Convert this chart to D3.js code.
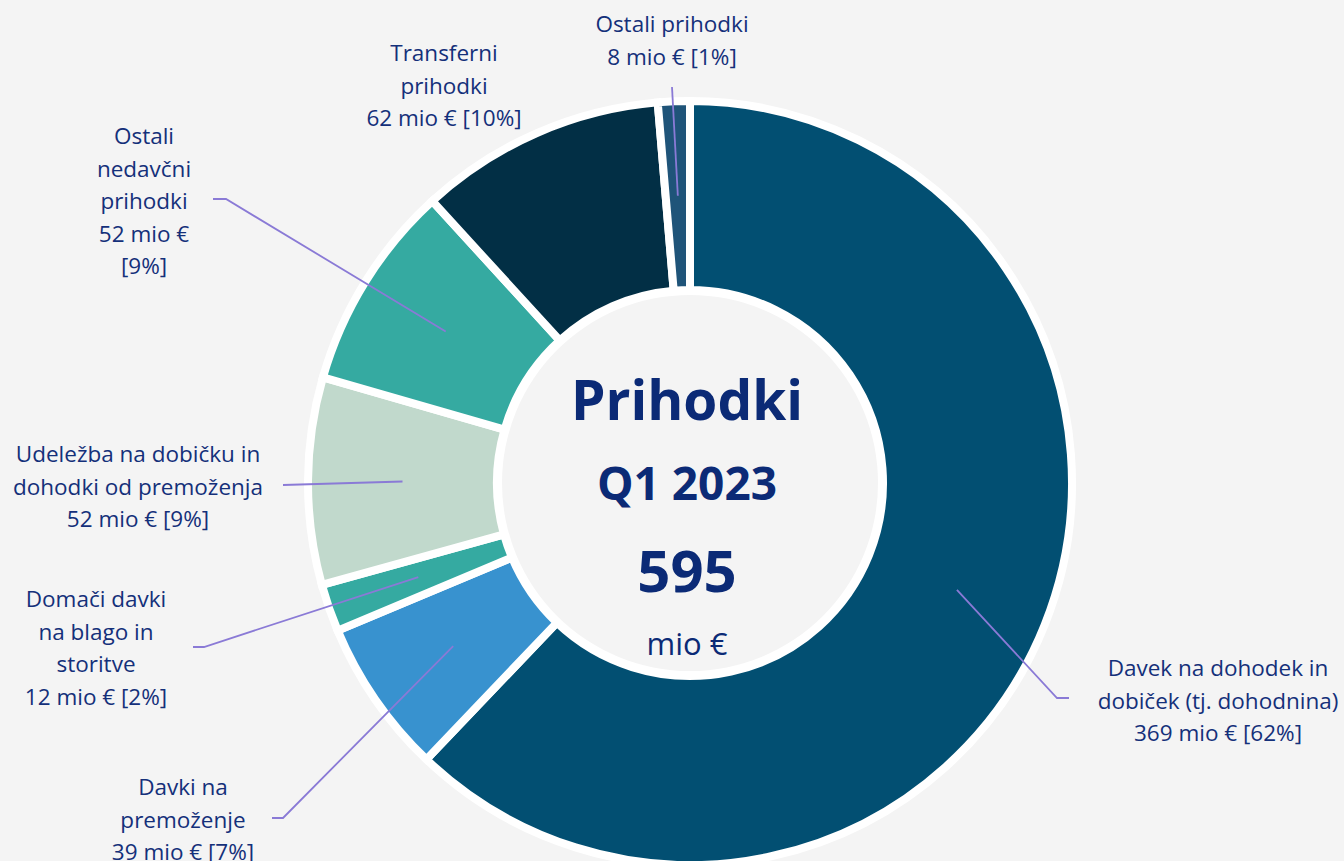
<!DOCTYPE html>
<html>
<head>
<meta charset="utf-8">
<script src="https://cdn.jsdelivr.net/npm/d3@7"></script>
<style>
  html, body { margin: 0; padding: 0; background: #f4f4f4; }
  svg { display: block; }
  .lbl { font-family: "Open Sans", "Noto Sans", sans-serif; font-size: 22.5px; fill: #14307a; }
  .mid { font-family: "Open Sans", "Noto Sans", sans-serif; fill: #0b2a76; }
</style>
</head>
<body>
<div id="chart"></div>
<script>
// data, clockwise from 12 o'clock
const categories = [
    "Davek na dohodek in dobiček (tj. dohodnina)",
    "Davki na premoženje",
    "Domači davki na blago in storitve",
    "Udeležba na dobičku in dohodki od premoženja",
    "Ostali nedavčni prihodki",
    "Transferni prihodki",
    "Ostali prihodki"
];
const values = [369, 39, 12, 52, 52, 62, 8];
const shares = ["62%", "7%", "2%", "9%", "9%", "10%", "1%"];
// label lines as they are broken in the picture
const labelLines = [
    ["Davek na dohodek in", "dobiček (tj. dohodnina)"],
    ["Davki na", "premoženje"],
    ["Domači davki", "na blago in", "storitve"],
    ["Udeležba na dobičku in", "dohodki od premoženja"],
    ["Ostali", "nedavčni", "prihodki"],
    ["Transferni", "prihodki"],
    ["Ostali prihodki"]
];
const total = 595;
const title = "Prihodki";
const period = "Q1 2023";
const unit = "mio €";

const colors = ["#024f72", "#3892cf", "#35aaa1", "#c1d9cc", "#35aaa1", "#022f45", "#1f5479"];

const W = 1344, H = 861;
const cx = 690, cy = 483;
const rOuter = 382, rInner = 193;

// label layout: text centre x, first baseline y, value line split, leader elbow
const layout = [
    { x: 1218, y: 676, split: false, elbow: [[1057, 698], [1069, 698]] },
    { x: 183, y: 795, split: false, elbow: [[283, 818], [272, 818]] },
    { x: 96, y: 607, split: false, elbow: [[204, 647], [193, 647]] },
    { x: 138, y: 462, split: false, elbow: [[283, 485]] },
    { x: 144, y: 144, split: true, elbow: [[226, 199], [213, 199]] },
    { x: 444, y: 61, split: false, elbow: null },
    { x: 672, y: 32, split: false, elbow: [[672, 87]] }
];
const lineH = 32.5;

const svg = d3.select("#chart")
    .append("svg")
    .attr("width", W)
    .attr("height", H)
    .attr("viewBox", [0, 0, W, H]);

svg.append("rect").attr("width", W).attr("height", H).attr("fill", "#f4f4f4");

const g = svg.append("g").attr("transform", `translate(${cx},${cy})`);

const pie = d3.pie().sort(null).value(d => d)(values);
const arc = d3.arc().innerRadius(rInner).outerRadius(rOuter);

// white backing ring
g.append("circle").attr("r", rOuter + 3).attr("fill", "#fff");

g.selectAll("path.slice")
    .data(pie)
    .join("path")
    .attr("class", "slice")
    .attr("d", arc)
    .attr("fill", (d, i) => colors[i])
    .attr("stroke", "#fff")
    .attr("stroke-width", 8)
    .attr("stroke-linejoin", "miter");

g.append("circle").attr("r", rInner - 5).attr("fill", "#f4f4f4");

// leader lines
const line = d3.line();
pie.forEach((d, i) => {
    const L = layout[i];
    if (!L.elbow) return;
    const c = arc.centroid(d);
    const pts = [[c[0] + cx, c[1] + cy]].concat(L.elbow);
    svg.append("path")
        .attr("d", line(pts))
        .attr("fill", "none")
        .attr("stroke", "#8a7ad6")
        .attr("stroke-width", 1.8);
});

// labels
categories.forEach((name, i) => {
    const L = layout[i];
    let rows = labelLines[i].slice();
    const val = `${values[i]} mio €`;
    if (L.split) rows.push(val, `[${shares[i]}]`);
    else rows.push(`${val} [${shares[i]}]`);
    const t = svg.append("text")
        .attr("class", "lbl")
        .attr("text-anchor", "middle");
    rows.forEach((r, k) => {
        t.append("tspan").attr("x", L.x).attr("y", L.y + k * lineH).text(r);
    });
});

// centre text
const mx = cx - 3;
svg.append("text").attr("class", "mid").attr("x", mx).attr("y", 420)
    .attr("text-anchor", "middle").attr("font-weight", 700).attr("font-size", 55).text(title);
svg.append("text").attr("class", "mid").attr("x", mx).attr("y", 500)
    .attr("text-anchor", "middle").attr("font-weight", 700).attr("font-size", 46).text(period);
svg.append("text").attr("class", "mid").attr("x", mx).attr("y", 592)
    .attr("text-anchor", "middle").attr("font-weight", 700).attr("font-size", 58).text(total);
svg.append("text").attr("class", "mid").attr("x", mx).attr("y", 655)
    .attr("text-anchor", "middle").attr("font-size", 31).text(unit);
</script>
</body>
</html>
